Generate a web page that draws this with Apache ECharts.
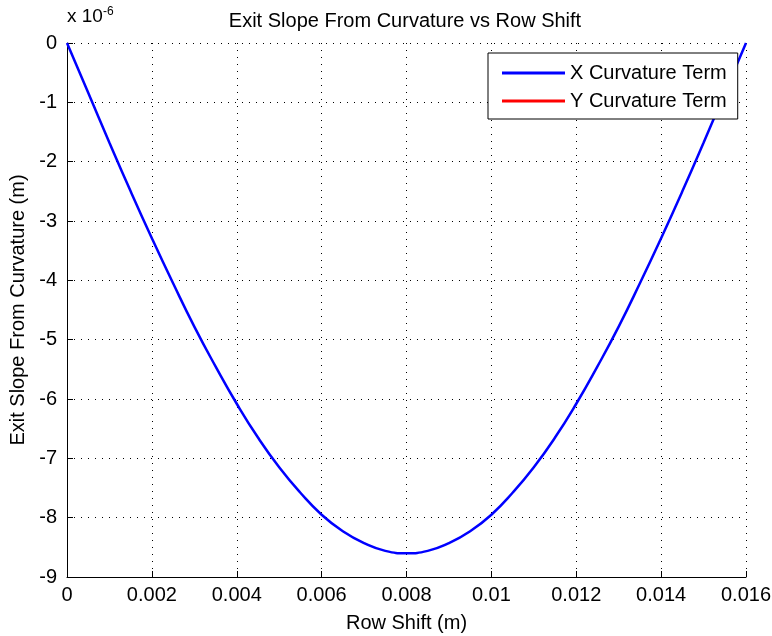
<!DOCTYPE html>
<html>
<head>
<meta charset="utf-8">
<script src="https://cdn.jsdelivr.net/npm/echarts@6/dist/echarts.min.js"></script>
<style>
  html, body { margin: 0; padding: 0; background: #fff; }
  #chart { width: 772px; height: 636px; }
</style>
</head>
<body>
<div id="chart"></div>
<script>
// row shift (m)
const rowShift = [
  0, 0.0005, 0.001, 0.0015, 0.002, 0.0025, 0.003, 0.0035, 0.004, 0.0045,
  0.005, 0.0055, 0.006, 0.0065, 0.007, 0.0075, 0.008, 0.0085, 0.009, 0.0095,
  0.01, 0.0105, 0.011, 0.0115, 0.012, 0.0125, 0.013, 0.0135, 0.014, 0.0145,
  0.015, 0.0155, 0.016
];
// exit slope, x curvature term (x 10^-6)
const xCurvature = [
  0, -0.84, -1.68, -2.5, -3.29, -4.05, -4.78, -5.45, -6.08, -6.65,
  -7.15, -7.58, -7.95, -8.23, -8.43, -8.56, -8.6, -8.56, -8.43, -8.23,
  -7.95, -7.58, -7.15, -6.65, -6.08, -5.45, -4.78, -4.05, -3.29, -2.5,
  -1.68, -0.84, 0
];
// y curvature term: nothing visible in the plot area
const yCurvature = [];

const xTicks = ['0', '0.002', '0.004', '0.006', '0.008', '0.01', '0.012', '0.014', '0.016'];

const font = 'Liberation Sans, Arial, sans-serif';
const chart = echarts.init(document.getElementById('chart'));

const option = {
  animation: false,
  backgroundColor: '#fff',
  title: {
    text: 'Exit Slope From Curvature vs Row Shift',
    left: 400,
    textAlign: 'center',
    top: 6,
    textStyle: { fontFamily: font, fontSize: 20, fontWeight: 'normal', color: '#000' }
  },
  graphic: [{
    type: 'text',
    left: 67,
    top: 6,
    style: {
      rich: {
        a: { fontFamily: font, fontSize: 19, fill: '#000' },
        s: { fontFamily: font, fontSize: 12, fill: '#000', verticalAlign: 'top', padding: [0, 0, 10, 0] }
      },
      text: '{a|x 10}{s|-6}'
    }
  }],
  legend: {
    orient: 'vertical',
    left: 488,
    top: 53,
    padding: [10, 11, 8, 14],
    itemGap: 8,
    itemWidth: 63,
    itemHeight: 3,
    icon: 'rect',
    borderColor: '#000',
    borderWidth: 1,
    backgroundColor: '#fff',
    textStyle: { fontFamily: font, fontSize: 20, color: '#000' },
    data: [
      { name: 'X Curvature Term', itemStyle: { color: '#0000ff' } },
      { name: 'Y Curvature Term', itemStyle: { color: '#ff0000' } }
    ]
  },
  grid: { left: 67, right: 26, top: 43, bottom: 59, containLabel: false, outerBoundsMode: 'none' },
  xAxis: {
    type: 'value',
    min: 0,
    max: 0.016,
    interval: 0.002,
    name: 'Row Shift (m)',
    nameLocation: 'middle',
    nameGap: 36,
    nameTextStyle: { fontFamily: font, fontSize: 20, color: '#000' },
    axisLine: { onZero: false, lineStyle: { color: '#000', width: 1 } },
    axisTick: { inside: true, length: 6, lineStyle: { color: '#000' } },
    axisLabel: {
      fontFamily: font, fontSize: 20, color: '#000', margin: 8,
      formatter: (v) => xTicks[Math.round(v / 0.002)]
    },
    splitLine: { show: true, lineStyle: { color: '#000', type: [1, 6], width: 1 } }
  },
  yAxis: {
    type: 'value',
    min: -9,
    max: 0,
    interval: 1,
    name: 'Exit Slope From Curvature (m)',
    nameLocation: 'middle',
    nameGap: 39,
    nameTextStyle: { fontFamily: font, fontSize: 20, color: '#000' },
    axisLine: { show: true, lineStyle: { color: '#000', width: 1 } },
    axisTick: { show: true, inside: true, length: 6, lineStyle: { color: '#000' } },
    axisLabel: { fontFamily: font, fontSize: 20, color: '#000', margin: 10 },
    splitLine: { show: true, lineStyle: { color: '#000', type: [1, 6], width: 1 } }
  },
  series: [
    {
      name: 'X Curvature Term',
      type: 'line',
      smooth: true,
      showSymbol: false,
      clip: false,
      lineStyle: { color: '#0000ff', width: 2.5 },
      itemStyle: { color: '#0000ff' },
      data: rowShift.map((x, i) => [x, xCurvature[i]])
    },
    {
      name: 'Y Curvature Term',
      type: 'line',
      showSymbol: false,
      lineStyle: { color: '#ff0000', width: 2 },
      itemStyle: { color: '#ff0000' },
      data: yCurvature
    }
  ]
};
chart.setOption(option);
</script>
</body>
</html>
